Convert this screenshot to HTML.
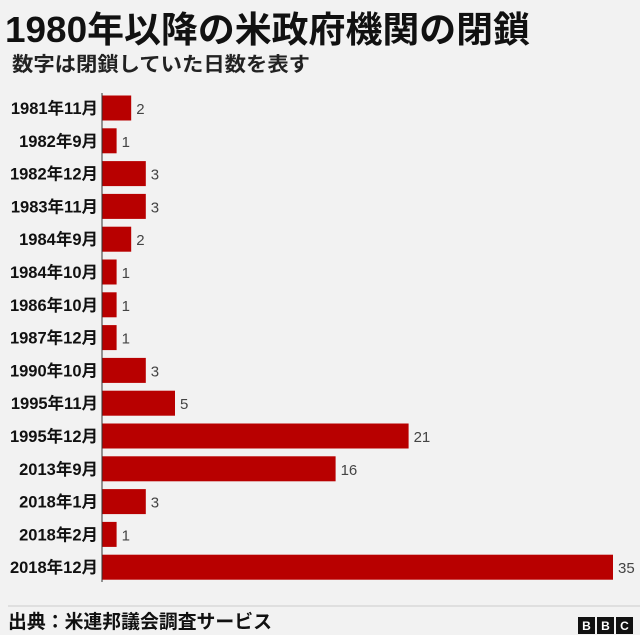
<!DOCTYPE html>
<html><head><meta charset="utf-8"><style>
body{margin:0;width:640px;height:635px;background:#f2f2f2;overflow:hidden;font-family:"Liberation Sans","Noto Sans CJK JP",sans-serif;}
svg{display:block}
</style></head><body>
<svg width="640" height="635">
<text x="5" y="42" font-size="36" font-weight="bold" fill="#111" textLength="525" lengthAdjust="spacingAndGlyphs" font-family="Liberation Sans, Noto Sans CJK JP, sans-serif">1980年以降の米政府機関の閉鎖</text>
<text x="12" y="71" font-size="20" font-weight="bold" fill="#222" textLength="298" lengthAdjust="spacingAndGlyphs" font-family="Liberation Sans, Noto Sans CJK JP, sans-serif">数字は閉鎖していた日数を表す</text>
<g id="bars"></g>
<line x1="102" y1="93" x2="102" y2="582" stroke="#333" stroke-width="1"/>
<line x1="8" y1="606" x2="640" y2="606" stroke="#ccc" stroke-width="1"/>
<text x="8" y="628" font-size="19" font-weight="bold" fill="#111" textLength="264" lengthAdjust="spacingAndGlyphs" font-family="Liberation Sans, Noto Sans CJK JP, sans-serif">出典：米連邦議会調査サービス</text>
<g font-family="Liberation Sans, sans-serif" font-size="12" font-weight="bold" fill="#fff" text-anchor="middle">
<rect x="578" y="617" width="17" height="17" fill="#111"/><text x="586.5" y="630">B</text>
<rect x="597" y="617" width="17" height="17" fill="#111"/><text x="605.5" y="630">B</text>
<rect x="616" y="617" width="17" height="17" fill="#111"/><text x="624.5" y="630">C</text>
</g>
</svg>
<script>
const categories=["1981年11月","1982年9月","1982年12月","1983年11月","1984年9月","1984年10月","1986年10月","1987年12月","1990年10月","1995年11月","1995年12月","2013年9月","2018年1月","2018年2月","2018年12月"];
const values=[2,1,3,3,2,1,1,1,3,5,21,16,3,1,35];
const x0=102, xMax=613, maxV=35, yTop=108, pitch=32.8, bh=25;
const xs=v=>x0+(xMax-x0)*v/maxV;
const ys=i=>yTop+i*pitch;
const g=document.getElementById('bars');
const NS="http://www.w3.org/2000/svg";
categories.forEach((c,i)=>{
  const cy=ys(i);
  const r=document.createElementNS(NS,'rect');
  r.setAttribute('x',x0);r.setAttribute('y',cy-bh/2);
  r.setAttribute('width',xs(values[i])-x0);r.setAttribute('height',bh);
  r.setAttribute('fill','#b80000');
  
  
  g.appendChild(r);
  const l=document.createElementNS(NS,'text');
  l.setAttribute('x',98);l.setAttribute('y',cy+6);
  l.setAttribute('text-anchor','end');l.setAttribute('font-size','16.5');
  l.setAttribute('font-weight','bold');l.setAttribute('fill','#111');
  l.textContent=c;
  
  
  g.appendChild(l);
  const v=document.createElementNS(NS,'text');
  v.setAttribute('x',xs(values[i])+5);v.setAttribute('y',cy+6);
  v.setAttribute('font-size','15');v.setAttribute('fill','#444');
  v.textContent=values[i];
  
  
  g.appendChild(v);
});
</script>
</body></html>
